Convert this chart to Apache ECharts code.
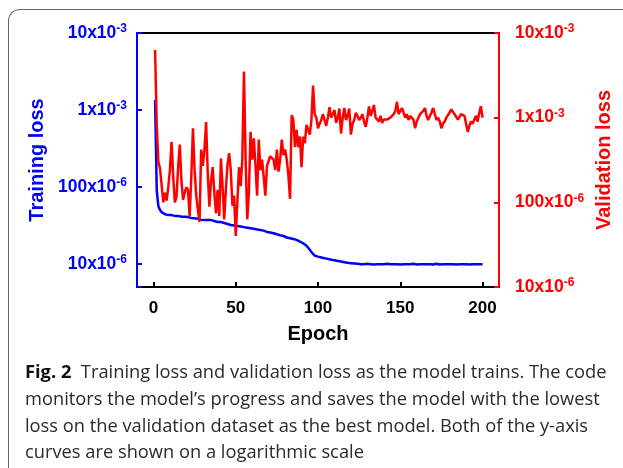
<!DOCTYPE html>
<html>
<head>
<meta charset="utf-8">
<script src="https://cdn.jsdelivr.net/npm/echarts@6/dist/echarts.min.js"></script>
<style>
  html, body { margin: 0; padding: 0; background: #fff; }
  #wrap { position: relative; width: 623px; height: 468px; overflow: hidden; }
  #frame {
    position: absolute; left: 8px; top: 9px; width: 640px; height: 480px;
    border-top: 1.5px solid #666; border-left: 1.5px solid #666;
    border-top-left-radius: 12px;
  }
  #chart { position: absolute; left: 0; top: 0; width: 623px; height: 468px; }
  #caption {
    position: absolute; left: 25px; top: 358px; width: 600px;
    font-family: "Open Sans", "Noto Sans", sans-serif; font-size: 18.3px;
    line-height: 26.8px; color: #2a2a2a; white-space: nowrap;
  }
  #caption b { font-weight: 700; color: #111; }
</style>
</head>
<body>
<div id="wrap">
  <div id="frame"></div>
  <div id="chart"></div>
  <div id="caption">
    <div><b>Fig. 2</b>&nbsp; Training loss and validation loss as the model trains. The code</div>
    <div>monitors the model’s progress and saves the model with the lowest</div>
    <div>loss on the validation dataset as the best model. Both of the y-axis</div>
    <div>curves are shown on a logarithmic scale</div>
  </div>
</div>
<script>
// loss per epoch, epoch 1..200
const trainLoss = [
  1.35e-3, 9.0e-5, 5.6e-5, 5.0e-5, 4.7e-5, 4.6e-5, 4.4e-5, 4.5e-5, 4.3e-5, 4.2e-5,
  4.3e-5, 4.1e-5, 4.2e-5, 4.0e-5, 4.2e-5, 4.4e-5, 4.1e-5, 4.0e-5, 4.1e-5, 3.95e-5,
  4.05e-5, 3.9e-5, 3.95e-5, 3.85e-5, 3.9e-5, 3.8e-5, 3.85e-5, 3.8e-5, 3.75e-5, 3.8e-5,
  3.7e-5, 3.75e-5, 3.7e-5, 3.65e-5, 3.7e-5, 3.6e-5, 3.6e-5, 3.55e-5, 3.5e-5, 3.45e-5,
  3.5e-5, 3.4e-5, 3.4e-5, 3.35e-5, 3.3e-5, 3.3e-5, 3.2e-5, 3.2e-5, 3.15e-5, 3.15e-5,
  3.1e-5, 3.1e-5, 3.05e-5, 3.05e-5, 3.0e-5, 3.0e-5, 2.95e-5, 2.95e-5, 2.9e-5, 2.9e-5,
  2.85e-5, 2.85e-5, 2.8e-5, 2.8e-5, 2.75e-5, 2.75e-5, 2.7e-5, 2.65e-5, 2.6e-5, 2.6e-5,
  2.55e-5, 2.5e-5, 2.5e-5, 2.45e-5, 2.42e-5, 2.4e-5, 2.35e-5, 2.32e-5, 2.3e-5, 2.25e-5,
  2.2e-5, 2.2e-5, 2.15e-5, 2.1e-5, 2.1e-5, 2.08e-5, 2.05e-5, 2.0e-5, 1.95e-5, 1.9e-5,
  1.85e-5, 1.8e-5, 1.72e-5, 1.62e-5, 1.52e-5, 1.42e-5, 1.34e-5, 1.28e-5, 1.25e-5, 1.24e-5,
  1.22e-5, 1.21e-5, 1.2e-5, 1.18e-5, 1.17e-5, 1.16e-5, 1.15e-5, 1.13e-5, 1.12e-5, 1.11e-5,
  1.1e-5, 1.09e-5, 1.08e-5, 1.07e-5, 1.06e-5, 1.05e-5, 1.04e-5, 1.03e-5, 1.03e-5, 1.02e-5,
  1.02e-5, 1.01e-5, 1.01e-5, 1.0e-5, 1.0e-5, 9.9e-6, 1.0e-5, 9.9e-6, 9.9e-6, 1.0e-5,
  9.9e-6, 9.9e-6, 1.0e-5, 9.8e-6, 9.9e-6, 9.9e-6, 1.0e-5, 9.9e-6, 9.8e-6, 9.9e-6,
  9.9e-6, 1.0e-5, 9.9e-6, 9.9e-6, 9.8e-6, 9.9e-6, 1.0e-5, 9.9e-6, 9.9e-6, 9.8e-6,
  9.9e-6, 9.9e-6, 1.0e-5, 9.9e-6, 9.8e-6, 9.9e-6, 9.9e-6, 1.0e-5, 9.9e-6, 9.8e-6,
  9.9e-6, 9.9e-6, 9.8e-6, 9.9e-6, 1.0e-5, 9.9e-6, 9.8e-6, 9.9e-6, 9.9e-6, 9.8e-6,
  9.9e-6, 1.0e-5, 9.9e-6, 9.8e-6, 9.9e-6, 9.9e-6, 9.8e-6, 9.9e-6, 1.0e-5, 9.9e-6,
  9.8e-6, 9.9e-6, 9.9e-6, 9.8e-6, 9.9e-6, 9.9e-6, 1.0e-5, 9.9e-6, 9.8e-6, 9.9e-6,
  9.9e-6, 9.8e-6, 9.9e-6, 9.9e-6, 1.0e-5, 9.9e-6, 9.8e-6, 9.9e-6, 9.9e-6, 9.9e-6
]
const valLoss = [
  6.3e-3, 8.0e-4, 3.0e-4, 2.5e-4, 2.4e-4, 1.0e-4, 1.3e-4, 1.05e-4, 1.5e-4, 2.4e-4,
  5.2e-4, 2.0e-4, 1.0e-4, 1.15e-4, 2.6e-4, 4.8e-4, 1.8e-4, 1.07e-4, 1.3e-4, 1.5e-4,
  1.4e-4, 6.8e-5, 2.0e-4, 7.5e-4, 2.4e-4, 1.2e-4, 8.1e-5, 5.9e-5, 4.2e-4, 2.7e-4,
  4.2e-4, 8.9e-4, 2.2e-4, 8.9e-5, 1.8e-4, 2.6e-4, 1.3e-4, 7.4e-5, 1.4e-4, 6.9e-5,
  3.3e-4, 1.55e-4, 6.3e-5, 1.4e-4, 2.8e-4, 3.8e-4, 2.4e-4, 9.1e-5, 1.2e-4, 4.0e-5,
  4.0e-5, 2.6e-4, 1.55e-4, 3.2e-4, 3.5e-3, 3.3e-4, 6.3e-5, 1.3e-4, 6.8e-4, 3.2e-4,
  5.7e-4, 2.7e-4, 1.2e-4, 5.5e-4, 2.4e-4, 3.2e-4, 2.0e-4, 1.2e-4, 2.7e-4, 2.8e-4,
  3.5e-4, 3.4e-4, 3.2e-4, 2.4e-4, 4.2e-4, 2.3e-4, 3.2e-4, 5.5e-4, 3.6e-4, 4.2e-4,
  3.2e-4, 2.1e-4, 1.1e-4, 1.07e-3, 9.4e-4, 4.5e-4, 7.2e-4, 4.5e-4, 6.0e-4, 2.6e-4,
  6.0e-4, 5.0e-4, 8.2e-4, 7.2e-4, 6.3e-4, 9.4e-4, 2.4e-3, 1.1e-3, 1.0e-3, 7.5e-4,
  8.5e-4, 9.4e-4, 1.1e-3, 1.05e-3, 8.0e-4, 1.0e-3, 1.33e-3, 1.0e-3, 1.1e-3, 1.23e-3,
  8.7e-4, 1.0e-3, 1.28e-3, 6.5e-4, 1.0e-3, 1.3e-3, 9.4e-4, 1.05e-3, 1.28e-3, 6.3e-4,
  8.5e-4, 9.4e-4, 1.14e-3, 1.05e-3, 9.4e-4, 1.0e-3, 1.1e-3, 9.0e-4, 7.8e-4, 1.0e-3,
  1.36e-3, 1.05e-3, 1.2e-3, 1.41e-3, 1.0e-3, 1.05e-3, 9.0e-4, 1.05e-3, 8.65e-4, 9.5e-4,
  1.0e-3, 9.5e-4, 9.0e-4, 1.0e-3, 1.05e-3, 1.1e-3, 1.2e-3, 1.54e-3, 1.1e-3, 1.05e-3,
  1.3e-3, 1.15e-3, 1.0e-3, 1.1e-3, 9.4e-4, 1.05e-3, 1.1e-3, 9.5e-4, 7.5e-4, 9.0e-4,
  9.5e-4, 1.1e-3, 1.1e-3, 1.2e-3, 1.3e-3, 1.05e-3, 9.4e-4, 1.05e-3, 1.15e-3, 1.3e-3,
  1.1e-3, 9.4e-4, 1.0e-3, 9.0e-4, 7.5e-4, 8.5e-4, 9.0e-4, 1.0e-3, 1.05e-3, 1.15e-3,
  1.25e-3, 1.3e-3, 1.1e-3, 1.05e-3, 9.5e-4, 1.0e-3, 1.1e-3, 1.1e-3, 1.05e-3, 1.0e-3,
  6.8e-4, 8.0e-4, 9.0e-4, 8.5e-4, 9.5e-4, 1.05e-3, 9.0e-4, 1.14e-3, 1.37e-3, 1.0e-3
]

const epochTicks = [0, 50, 100, 150, 200]
// log ticks and how the figure prints them
const yTickValues = [1e-2, 1e-3, 1e-4, 1e-5]
const yTickMant = ['10x10', '1x10', '100x10', '10x10']
const yTickExp = ['-3', '-3', '-6', '-6']

const BLUE = '#0000ff'
const RED = '#ff0000'
const FONT = 'Liberation Sans, Arial, sans-serif'

function logLabel(v) {
  const i = yTickValues.findIndex(t => Math.abs(Math.log10(v) - Math.log10(t)) < 1e-6)
  if (i < 0) return ''
  return '{m|' + yTickMant[i] + '}{s|' + yTickExp[i] + '}'
}

function richFor(color) {
  return {
    m: { fontSize: 17.5, fontWeight: 'bold', color: color, fontFamily: FONT, lineHeight: 20 },
    s: { fontSize: 12, fontWeight: 'bold', color: color, fontFamily: FONT, lineHeight: 12, verticalAlign: 'top' }
  }
}

const plotBox = { left: 137, right: 124, top: 33, bottom: 181 }

const chart = echarts.init(document.getElementById('chart'))

chart.setOption({
  animation: false,
  grid: [
    Object.assign({ show: true, borderColor: '#000', borderWidth: 2 }, plotBox),
    // overlay grid, only used to paint the blue left spine
    Object.assign({ show: false }, plotBox)
  ],
  xAxis: [
    {
      type: 'value',
      min: -10,
      max: 210,
      name: 'Epoch',
      nameLocation: 'middle',
      nameGap: 37,
      nameTextStyle: { color: '#000', fontSize: 20, fontWeight: 'bold', fontFamily: FONT },
      axisLine: { show: true, onZero: false, lineStyle: { color: '#000', width: 2 } },
      axisTick: { show: true, inside: true, length: 5, lineStyle: { color: '#000', width: 2 }, customValues: epochTicks },
      axisLabel: { color: '#000', fontSize: 17, fontWeight: 'bold', fontFamily: FONT, margin: 13, customValues: epochTicks },
      splitLine: { show: false }
    },
    {
      gridIndex: 1,
      type: 'value',
      min: 0,
      max: 1,
      show: false
    }
  ],
  yAxis: [
    {
      type: 'log',
      min: 5e-6,
      max: 1e-2,
      position: 'left',
      name: 'Training loss',
      nameLocation: 'middle',
      nameRotate: 90,
      nameGap: 85,
      nameTextStyle: { color: BLUE, fontSize: 20, fontWeight: 'bold', fontFamily: FONT },
      axisLine: { show: true, onZero: false, lineStyle: { color: BLUE, width: 2 } },
      axisTick: { show: true, inside: true, length: 5, lineStyle: { color: BLUE, width: 2 } },
      axisLabel: { formatter: logLabel, rich: richFor(BLUE), margin: 10 },
      splitLine: { show: false }
    },
    {
      type: 'log',
      min: 1e-5,
      max: 1e-2,
      position: 'right',
      name: 'Validation loss',
      nameLocation: 'middle',
      nameRotate: 90,
      nameGap: 93,
      nameTextStyle: { color: RED, fontSize: 20, fontWeight: 'bold', fontFamily: FONT },
      axisLine: { show: true, onZero: false, lineStyle: { color: RED, width: 2 } },
      axisTick: { show: true, inside: true, length: 5, lineStyle: { color: RED, width: 2 } },
      axisLabel: { formatter: logLabel, rich: richFor(RED), margin: 16 },
      splitLine: { show: false }
    },
    {
      gridIndex: 1,
      type: 'value',
      min: 0,
      max: 1,
      position: 'left',
      axisLine: { show: true, onZero: false, lineStyle: { color: BLUE, width: 2 } },
      axisTick: { show: false },
      axisLabel: { show: false },
      splitLine: { show: false }
    }
  ],
  series: [
    {
      name: 'Training loss',
      type: 'line',
      yAxisIndex: 0,
      showSymbol: false,
      lineStyle: { color: BLUE, width: 2.5 },
      data: trainLoss.map((v, i) => [i + 1, v])
    },
    {
      name: 'Validation loss',
      type: 'line',
      yAxisIndex: 1,
      showSymbol: false,
      lineStyle: { color: RED, width: 2.5 },
      data: valLoss.map((v, i) => [i + 1, v])
    }
  ]
})
</script>
</body>
</html>
